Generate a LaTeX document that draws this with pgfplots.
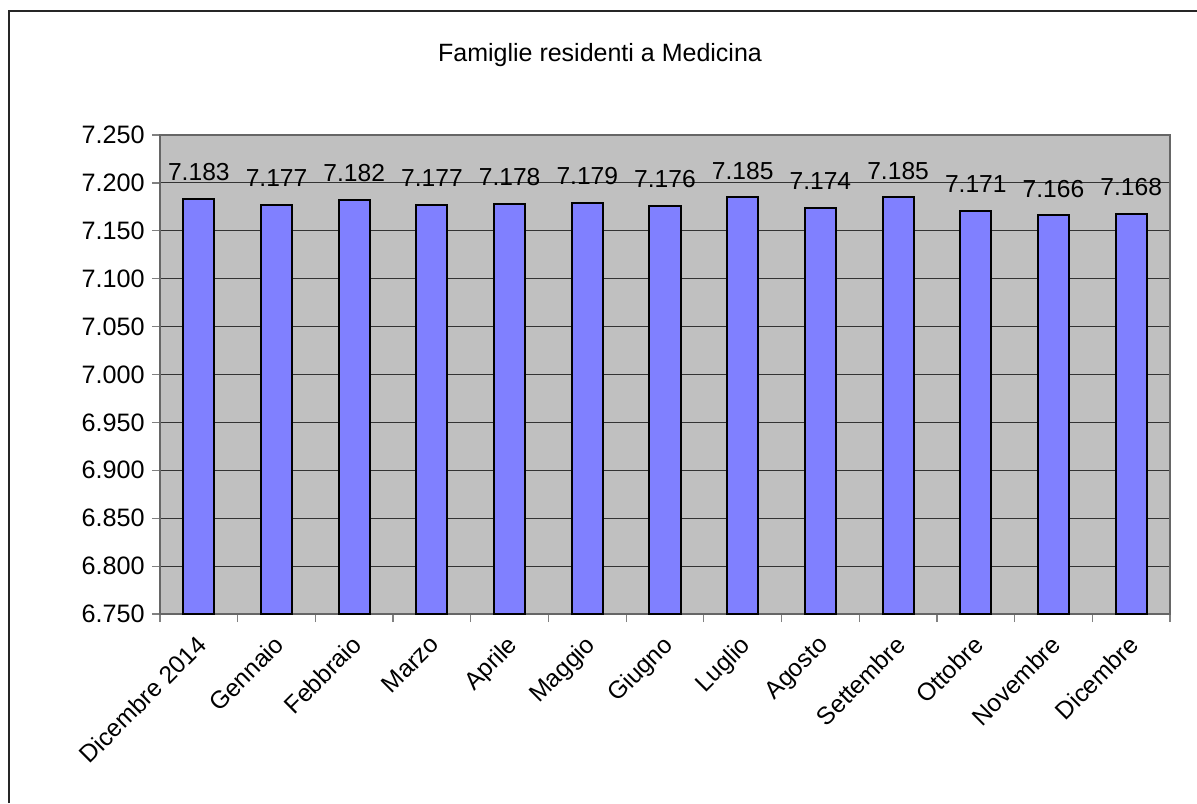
\documentclass[border=0pt]{standalone}
\usepackage{fontspec}
\setmainfont{Liberation Sans}
\usepackage{pgfplots}
\pgfplotsset{compat=1.18}
\definecolor{barfill}{HTML}{8080FF}
\definecolor{plotbg}{HTML}{C0C0C0}
\begin{document}
\begin{tikzpicture}
  % bounding box = 1197 x 803 px at 0.5pt per px, plot area lower left at origin
  \path[use as bounding box] (-80pt,-94.5pt) rectangle (518.5pt,307pt);
  \draw[line width=1pt, black!85] (-75.5pt,-94.5pt) -- (-75.5pt,301.5pt) -- (518.5pt,301.5pt);
  \node[font=\fontsize{12.5}{15}\selectfont] at (220pt,279.5pt) {Famiglie residenti a Medicina};
  \begin{axis}[
      at={(0pt,0pt)}, anchor=south west,
      scale only axis,
      width=505pt, height=239.5pt,
      ybar, bar width=0.4, bar shift=0pt,
      xmin=-0.5, xmax=12.5,
      ymin=6750, ymax=7250,
      ytick={6750,6800,...,7250},
      xtick={0,...,12},
      xticklabels={Dicembre 2014,Gennaio,Febbraio,Marzo,Aprile,Maggio,Giugno,Luglio,Agosto,Settembre,Ottobre,Novembre,Dicembre},
      minor xtick={-0.5,0.5,...,12.5},
      xtick style={draw=none},
      minor x tick style={draw=gray, line width=0.6pt},
      ytick style={draw=gray, line width=0.6pt},
      minor tick length=4pt, major tick length=4pt,
      tick align=outside,
      xtick pos=bottom, ytick pos=left,
      axis background/.style={fill=plotbg},
      axis line style={draw=gray!80!black, line width=0.8pt},
      ymajorgrids,
      major grid style={draw=black!80, line width=0.5pt},
      /pgf/number format/.cd, fixed, 1000 sep={.}, assume math mode=true,
      /pgfplots/.cd,
      yticklabel style={font=\fontsize{12.6}{15}\selectfont, inner sep=0pt, xshift=-3.5pt},
      % shifts come after rotate, so they act along the rotated text
      xticklabel style={font=\fontsize{12.3}{15}\selectfont, rotate=45, anchor=north east, inner sep=0pt, xshift=-5.4pt, yshift=-2.8pt},
      nodes near coords,
      every node near coord/.append style={font=\fontsize{12.3}{14}\selectfont, anchor=south, inner sep=0pt, yshift=8.5pt, black},
    ]
    \addplot[fill=barfill, draw=black, line width=1pt] coordinates {
      (0,7183) (1,7177) (2,7182) (3,7177) (4,7178) (5,7179) (6,7176)
      (7,7185) (8,7174) (9,7185) (10,7171) (11,7166) (12,7168)
    };
  \end{axis}
\end{tikzpicture}
\end{document}
